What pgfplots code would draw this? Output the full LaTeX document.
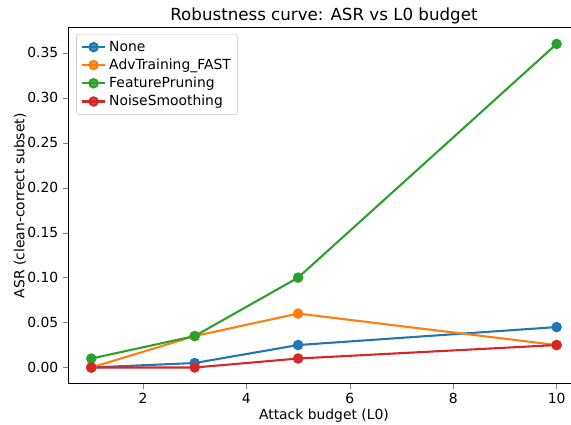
\documentclass[border=0pt]{standalone}
\usepackage{pgfplots}
\pgfplotsset{compat=1.18}
\usepackage{fontspec}
\setmainfont{DejaVu Sans}
\definecolor{c0}{HTML}{1F77B4}
\definecolor{c1}{HTML}{FF7F0E}
\definecolor{c2}{HTML}{2CA02C}
\definecolor{c3}{HTML}{D62728}
\begin{document}
\begin{tikzpicture}
\begin{axis}[
  scale only axis,
  width=368.6pt, height=256.3pt,
  xmin=0.55, xmax=10.45,
  ymin=-0.018, ymax=0.378,
  xtick={2,4,6,8,10},
  ytick={0,0.05,0.1,0.15,0.2,0.25,0.3,0.35},
  yticklabel style={/pgf/number format/fixed, /pgf/number format/fixed zerofill, /pgf/number format/precision=2},
  /pgf/number format/assume math mode=true,
  tick align=outside, tick pos=left,
  major tick length=3.5pt,
  tick label style={font=\fontsize{10}{12}\selectfont},
  label style={font=\fontsize{10}{12}\selectfont},
  title style={font=\fontsize{12}{14}\selectfont, yshift=-7pt},
  title={Robustness curve: ASR vs L0 budget},
  xlabel={Attack budget (L0)},
  xlabel style={yshift=3pt},
  ylabel={ASR (clean-correct subset)},
  ylabel shift=-6pt,
  legend cell align=left,
  legend style={at={(0.016,0.983)}, anchor=north west, font=\fontsize{10}{12}\selectfont,
    draw=black!20, rounded corners=2pt, fill=white, fill opacity=0.8, text opacity=1,
    row sep=0pt, inner sep=3pt},
  every axis plot/.append style={line width=1.5pt, mark=*, mark size=3pt},
]
\coordinate (SW) at (rel axis cs:0,0);
\coordinate (NW) at (rel axis cs:0,1);
\addplot[color=c0, mark options={fill=c0}] coordinates {(1,0) (3,0.005) (5,0.025) (10,0.045)};
\addlegendentry{None}
\addplot[color=c1, mark options={fill=c1}] coordinates {(1,0) (3,0.035) (5,0.06) (10,0.025)};
\addlegendentry{AdvTraining\_FAST}
\addplot[color=c2, mark options={fill=c2}] coordinates {(1,0.01) (3,0.035) (5,0.1) (10,0.36)};
\addlegendentry{FeaturePruning}
\addplot[color=c3, mark options={fill=c3}] coordinates {(1,0) (3,0) (5,0.01) (10,0.025)};
\addlegendentry{NoiseSmoothing}
\end{axis}
\pgfresetboundingbox
\path ([shift={(-49pt,-29.5pt)}]SW) rectangle ([shift={(362.2pt,20pt)}]NW);
\end{tikzpicture}
\end{document}
